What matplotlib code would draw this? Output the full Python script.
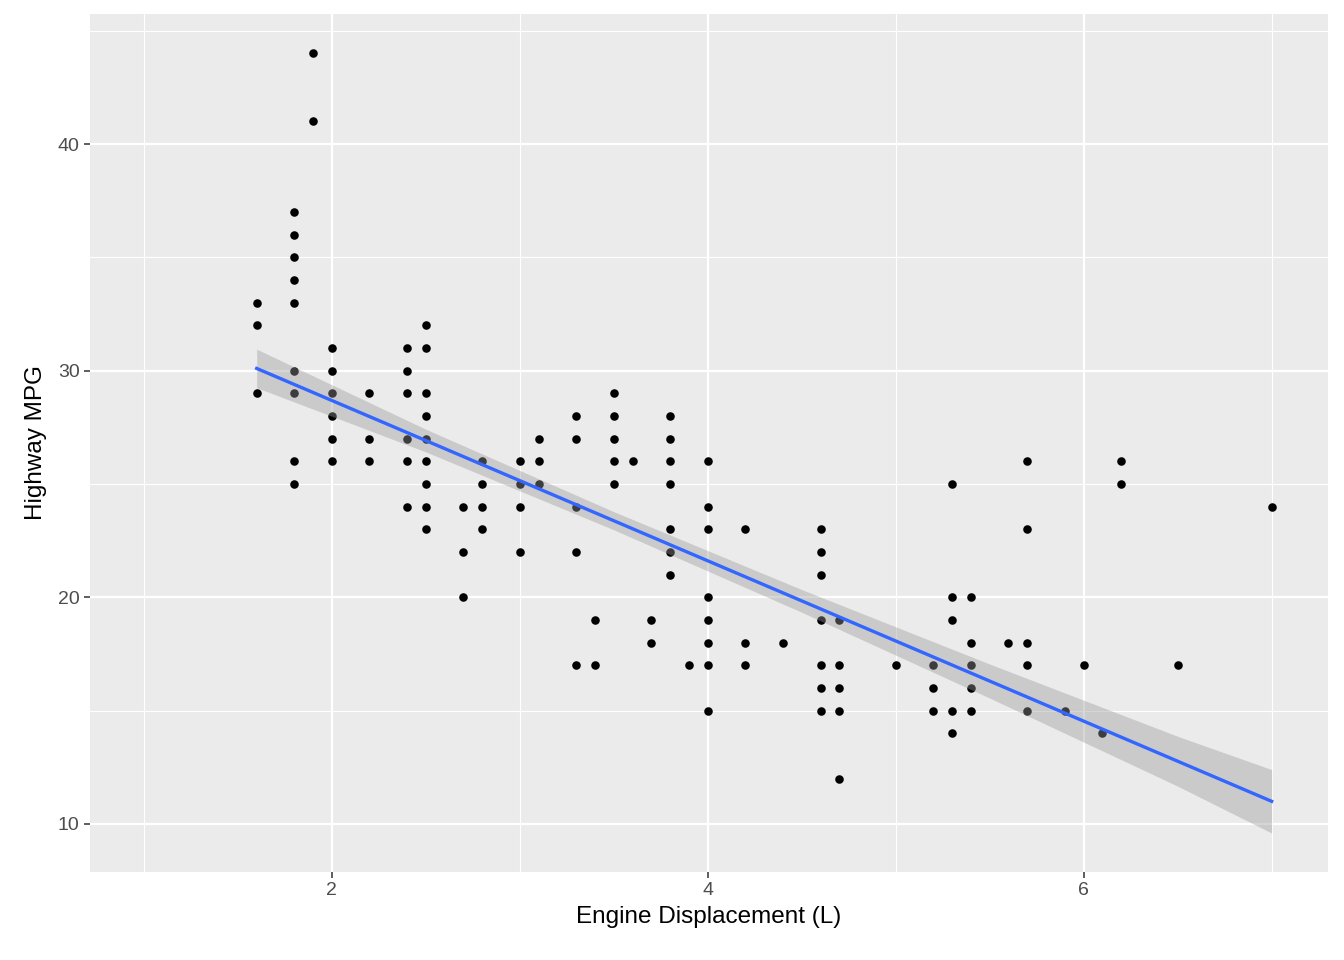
import matplotlib
matplotlib.use("Agg")
import matplotlib.pyplot as plt
import numpy as np

plt.rcParams['font.family'] = ['Liberation Sans', 'DejaVu Sans']

displ_groups = [1.6, 1.8, 1.9, 2.0, 2.2, 2.4, 2.5, 2.7, 2.8, 3.0, 3.1, 3.3, 3.4, 3.5, 3.6, 3.7,
                3.8, 3.9, 4.0, 4.2, 4.4, 4.6, 4.7, 5.0, 5.2, 5.3, 5.4, 5.6, 5.7, 5.9, 6.0, 6.1,
                6.2, 6.5, 7.0]
hwy_groups = [
    [33, 32, 29], [37, 36, 35, 34, 33, 30, 29, 26, 25], [44, 41], [31, 30, 29, 28, 27, 26],
    [29, 27, 26], [31, 30, 29, 27, 26, 24], [32, 31, 29, 28, 27, 26, 25, 24, 23], [24, 22, 20],
    [26, 25, 24, 23], [26, 25, 24, 22], [27, 26, 25], [28, 27, 24, 22, 17], [19, 17],
    [29, 28, 27, 26, 25], [26], [19, 18], [28, 27, 26, 25, 23, 22, 21], [17],
    [26, 24, 23, 20, 19, 18, 17, 15], [23, 18, 17], [18], [23, 22, 21, 19, 17, 16, 15],
    [19, 17, 16, 15, 12], [17], [17, 16, 15], [25, 20, 19, 15, 14], [20, 18, 17, 16, 15],
    [18], [26, 23, 18, 17, 15], [15], [17], [14], [26, 25], [17], [24]]

fit_x = [1.6, 7.0]
fit_y = [30.1, 11.0]
band_x = [1.6, 2.5, 3.5, 4.5, 5.5, 6.5, 7.0]
band_hw = [0.85, 0.5, 0.4, 0.5, 0.75, 1.1, 1.4]

xs = [d for d, hs in zip(displ_groups, hwy_groups) for _ in hs]
ys = [h for hs in hwy_groups for h in hs]

fig = plt.figure(figsize=(13.44, 9.6), dpi=100)
ax = fig.add_axes([90/1344, 88/960, 1238/1344, 858/960])
ax.set_facecolor('#EBEBEB')
for s in ax.spines.values():
    s.set_visible(False)

ax.set_xlim(0.713, 7.30)
ax.set_ylim(7.88, 45.74)
ax.set_xticks([2, 4, 6])
ax.set_yticks([10, 20, 30, 40])
ax.set_xticks([1, 3, 5, 7], minor=True)
ax.set_yticks([15, 25, 35, 45], minor=True)
ax.grid(which='major', color='white', linewidth=1.6)
ax.grid(which='minor', color='white', linewidth=0.8)
ax.set_axisbelow(True)
ax.tick_params(which='major', colors='#333333', labelcolor='#4D4D4D', labelsize=14, length=4, width=1.1)
ax.tick_params(which='minor', length=0)

ax.scatter(xs, ys, s=38, color='black', zorder=3, linewidths=0)

bx = np.array(band_x)
by = np.interp(bx, fit_x, fit_y)
ax.fill_between(bx, by - np.array(band_hw), by + np.array(band_hw), color='#999999', alpha=0.4, linewidth=0, zorder=4)
ax.plot(fit_x, fit_y, color='#3366FF', linewidth=2.4, zorder=5)

ax.set_xlabel('Engine Displacement (L)', fontsize=17.5, labelpad=5)
ax.set_ylabel('Highway MPG', fontsize=17.5, labelpad=8)

fig.savefig('out.png', dpi=100)
